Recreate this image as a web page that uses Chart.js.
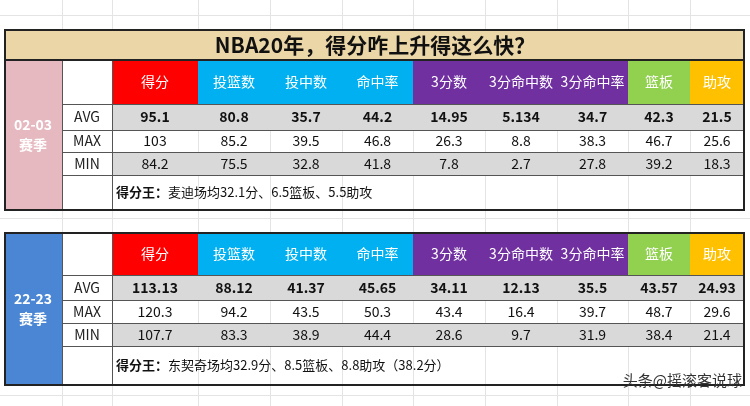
<!DOCTYPE html>
<html><head><meta charset="utf-8">
<script src="https://cdn.jsdelivr.net/npm/chart.js@4"></script>
<style>html,body{margin:0;background:#fff}#wrap{width:750px;height:406px}</style>
</head><body><div id="wrap"><canvas id="c"></canvas></div>
<script>
const title = 'NBA20年，得分咋上升得这么快？';
const categories = ['得分', '投篮数', '投中数', '命中率', '3分数', '3分命中数', '3分命中率', '篮板', '助攻'];
const rowLabels = ['AVG', 'MAX', 'MIN'];
const seasons = ['02-03\n赛季', '22-23\n赛季'];
const avg0203 = ['95.1', '80.8', '35.7', '44.2', '14.95', '5.134', '34.7', '42.3', '21.5'];
const max0203 = ['103', '85.2', '39.5', '46.8', '26.3', '8.8', '38.3', '46.7', '25.6'];
const min0203 = ['84.2', '75.5', '32.8', '41.8', '7.8', '2.7', '27.8', '39.2', '18.3'];
const avg2223 = ['113.13', '88.12', '41.37', '45.65', '34.11', '12.13', '35.5', '43.57', '24.93'];
const max2223 = ['120.3', '94.2', '43.5', '50.3', '43.4', '16.4', '39.7', '48.7', '29.6'];
const min2223 = ['107.7', '83.3', '38.9', '44.4', '28.6', '9.7', '31.9', '38.4', '21.4'];
const notePrefix = '得分王：';
const notes = ['麦迪场均32.1分、6.5篮板、5.5助攻', '东契奇场均32.9分、8.5篮板、8.8助攻（38.2分）'];

// layout (pixels of the 750x406 picture, mapped through the scales)
const colEdges = [5, 62, 112, 198, 270, 342, 413, 485, 557, 628, 690, 744];
const headColors = ['#ff0000', '#00b0f0', '#00b0f0', '#00b0f0', '#7030a0', '#7030a0', '#7030a0', '#92d050', '#ffc000'];
const blocks = [
    { rows: [60, 104, 130, 152, 175, 210], side: '#e6b9c0', vals: [avg0203, max0203, min0203] },
    { rows: [233, 275, 300, 323, 346, 385], side: '#4a86d4', vals: [avg2223, max2223, min2223] }
];
const FONT = '"Noto Sans CJK SC", "Noto Sans", sans-serif';

const tablePlugin = {
    id: 'table',
    beforeDraw(chart) {
        const { ctx, scales: { x, y } } = chart;
        const X = v => x.getPixelForValue(v);
        const Y = v => y.getPixelForValue(v);
        const rect = (x0, y0, x1, y1, fill) => { ctx.fillStyle = fill; ctx.fillRect(X(x0), Y(y0), X(x1) - X(x0), Y(y1) - Y(y0)); };
        const text = (s, cx, cy, color, font, align) => {
            ctx.fillStyle = color; ctx.font = font; ctx.textAlign = align || 'center'; ctx.textBaseline = 'middle';
            ctx.fillText(s, X(cx), Y(cy));
        };
        ctx.save();
        // faint spreadsheet grid
        ctx.strokeStyle = '#e4e4e4'; ctx.lineWidth = 1;
        [62, 112, 198, 270, 342, 413, 485, 557, 628, 690].forEach(v => { ctx.beginPath(); ctx.moveTo(X(v) + .5, Y(0)); ctx.lineTo(X(v) + .5, Y(406)); ctx.stroke(); });
        [15, 218, 395].forEach(v => { ctx.beginPath(); ctx.moveTo(X(0), Y(v) + .5); ctx.lineTo(X(750), Y(v) + .5); ctx.stroke(); });

        // title band
        rect(5, 30, 744, 60, '#ead6a6');
        text(title, 375, 45, '#111', 'bold 21px ' + FONT);
        ctx.strokeStyle = '#222'; ctx.lineWidth = 2;
        ctx.strokeRect(X(5), Y(30), X(744) - X(5), Y(210) - Y(30));

        blocks.forEach((b, bi) => {
            const r = b.rows;
            rect(5, r[0], 62, r[5], b.side);
            const sl = seasons[bi].split('\n');
            text(sl[0], 33, (r[0] + r[5]) / 2 - 10, '#fff', 'bold 14px ' + FONT);
            text(sl[1], 33, (r[0] + r[5]) / 2 + 10, '#fff', 'bold 14px ' + FONT);
            categories.forEach((c, i) => {
                const x0 = colEdges[i + 2], x1 = colEdges[i + 3];
                rect(x0, r[0], x1, r[1], headColors[i]);
                text(c, (x0 + x1) / 2, (r[0] + r[1]) / 2, '#fff', '14px ' + FONT);
            });
            rowLabels.forEach((lab, ri) => {
                const y0 = r[ri + 1], y1 = r[ri + 2];
                if (ri !== 1) rect(112, y0, 744, y1, '#d9d9d9');
                text(lab, 87, (y0 + y1) / 2, '#222', '14px ' + FONT);
                b.vals[ri].forEach((v, i) => {
                    const x0 = colEdges[i + 2], x1 = colEdges[i + 3];
                    text(v, (x0 + x1) / 2, (y0 + y1) / 2, '#111', (ri === 0 ? 'bold ' : '') + '14px ' + FONT);
                });
            });
            const ny = (r[4] + r[5]) / 2;
            text(notePrefix, 116, ny, '#111', 'bold 13px ' + FONT, 'left');
            const pw = ctx.measureText(notePrefix).width;
            ctx.font = '13px ' + FONT; ctx.fillText(notes[bi], X(116) + pw, Y(ny));
            // cell borders
            ctx.strokeStyle = '#555'; ctx.lineWidth = 1;
            for (let k = 1; k <= 4; k++) { ctx.beginPath(); ctx.moveTo(X(62), Y(r[k]) + .5); ctx.lineTo(X(744), Y(r[k]) + .5); ctx.stroke(); }
            ctx.beginPath(); ctx.moveTo(X(62) + .5, Y(r[0])); ctx.lineTo(X(62) + .5, Y(r[5])); ctx.stroke();
            ctx.beginPath(); ctx.moveTo(X(112) + .5, Y(r[0])); ctx.lineTo(X(112) + .5, Y(r[5])); ctx.stroke();
            ctx.strokeStyle = '#222'; ctx.lineWidth = 2;
            ctx.strokeRect(X(5), Y(r[0]), X(744) - X(5), Y(r[5]) - Y(r[0]));
        });
        text('头条@摇滚客说球', 742, 380, '#333', '15px ' + FONT, 'right');
        ctx.restore();
    }
};

new Chart(document.getElementById('c'), {
    type: 'scatter',
    data: { datasets: [{ data: [] }] },
    options: {
        responsive: true, maintainAspectRatio: false, animation: false,
        layout: { padding: 0 },
        plugins: { legend: { display: false }, tooltip: { enabled: false } },
        scales: {
            x: { type: 'linear', min: 0, max: 750, display: false },
            y: { type: 'linear', min: 0, max: 406, reverse: true, display: false }
        }
    },
    plugins: [tablePlugin]
});
</script></body></html>
